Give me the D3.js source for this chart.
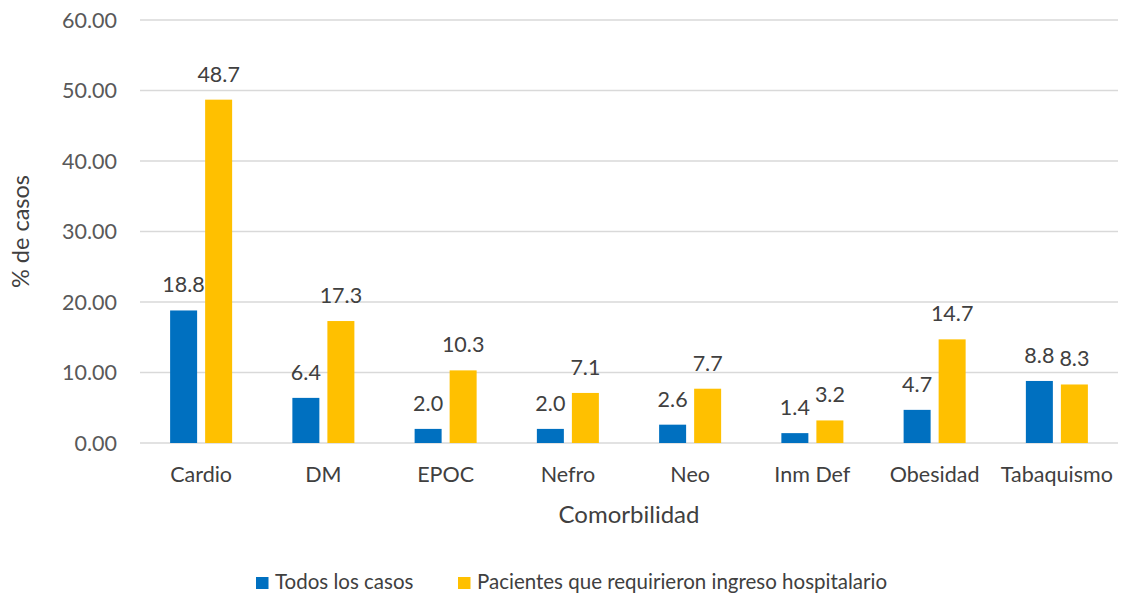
<!DOCTYPE html>
<html>
<head>
<meta charset="utf-8">
<script src="https://cdn.jsdelivr.net/npm/d3@7"></script>
<style>
  body { margin: 0; background: #fff; }
  svg { display: block; font-family: "Lato", "Open Sans", sans-serif; }
</style>
</head>
<body>
<div id="chart"></div>
<script>
// chart data
const categories = ["Cardio", "DM", "EPOC", "Nefro", "Neo", "Inm Def", "Obesidad", "Tabaquismo"];
const todos = [18.8, 6.4, 2.0, 2.0, 2.6, 1.4, 4.7, 8.8];
const hospital = [48.7, 17.3, 10.3, 7.1, 7.7, 3.2, 14.7, 8.3];
const seriesNames = ["Todos los casos", "Pacientes que requirieron ingreso hospitalario"];
const yTicks = [0, 10, 20, 30, 40, 50, 60];

const width = 1122;
const height = 593;
const margin = { top: 20, right: 4, bottom: 150, left: 140 };
const colors = ["#0070C0", "#FFC000"];

const svg = d3.select("#chart").append("svg")
  .attr("width", width)
  .attr("height", height);

const x = d3.scaleBand()
  .domain(categories)
  .range([margin.left, width - margin.right]);

const y = d3.scaleLinear()
  .domain([0, 60])
  .range([height - margin.bottom, margin.top]);

// gridlines
svg.append("g")
  .selectAll("line")
  .data(yTicks)
  .join("line")
  .attr("x1", margin.left)
  .attr("x2", width - margin.right)
  .attr("y1", d => y(d))
  .attr("y2", d => y(d))
  .attr("stroke", "#d9d9d9")
  .attr("stroke-width", 1.3);

// y tick labels
svg.append("g")
  .selectAll("text")
  .data(yTicks)
  .join("text")
  .attr("x", 117)
  .attr("y", d => y(d))
  .attr("dy", "0.35em")
  .attr("text-anchor", "end")
  .style("font-size", "21.5px")
  .style("fill", "#595959")
  .text(d => d.toFixed(2));

// bars, two per category (27px wide, 8px apart)
const inner = d3.scaleBand()
  .domain([0, 1])
  .range([0, x.bandwidth()])
  .paddingInner(0.229)
  .paddingOuter(0.86);

const rows = categories.map((c, i) => ({ cat: c, vals: [todos[i], hospital[i]] }));

const groups = svg.append("g")
  .selectAll("g")
  .data(rows)
  .join("g")
  .attr("transform", d => `translate(${x(d.cat)},0)`);

groups.selectAll("rect")
  .data(d => d.vals.map((v, k) => ({ v, k })))
  .join("rect")
  .attr("x", d => inner(d.k))
  .attr("width", inner.bandwidth())
  .attr("y", d => y(d.v))
  .attr("height", d => y(0) - y(d.v))
  .attr("fill", d => colors[d.k]);

// value labels
groups.selectAll("text")
  .data(d => d.vals.map((v, k) => ({ v, k })))
  .join("text")
  .attr("x", d => inner(d.k) + inner.bandwidth() / 2)
  .attr("y", d => y(d.v) - 18)
  .attr("text-anchor", "middle")
  .style("font-size", "21.5px")
  .style("fill", "#404040")
  .text(d => d.v.toFixed(1));

// category labels
svg.append("g")
  .selectAll("text")
  .data(categories)
  .join("text")
  .attr("x", d => x(d) + x.bandwidth() / 2)
  .attr("y", y(0) + 39)
  .attr("text-anchor", "middle")
  .style("font-size", "21.5px")
  .style("fill", "#404040")
  .text(d => d);

// axis titles
svg.append("text")
  .attr("transform", `translate(29, ${y(30)}) rotate(-90)`)
  .attr("text-anchor", "middle")
  .style("font-size", "23.5px")
  .style("fill", "#404040")
  .text("% de casos");

svg.append("text")
  .attr("x", 629)
  .attr("y", 523)
  .attr("text-anchor", "middle")
  .style("font-size", "24px")
  .style("fill", "#404040")
  .text("Comorbilidad");

// legend
const legendX = [256, 458];
const legend = svg.append("g")
  .selectAll("g")
  .data(seriesNames)
  .join("g")
  .attr("transform", (d, i) => `translate(${legendX[i]}, 577)`);

legend.append("rect")
  .attr("width", 12.5)
  .attr("height", 12)
  .attr("fill", (d, i) => colors[i]);

legend.append("text")
  .attr("x", 19)
  .attr("y", 12)
  .style("font-size", "20.5px")
  .style("fill", "#404040")
  .text(d => d);
</script>
</body>
</html>
